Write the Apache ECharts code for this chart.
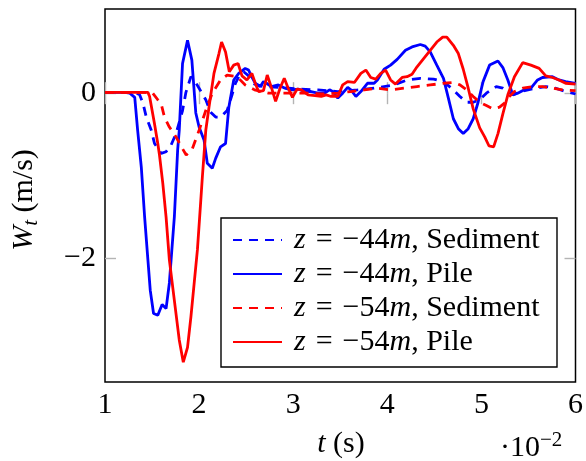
<!DOCTYPE html>
<html>
<head>
<meta charset="utf-8">
<script src="https://cdn.jsdelivr.net/npm/echarts@6/dist/echarts.min.js"></script>
<style>
  html, body { margin: 0; padding: 0; background: #fff; }
  #chart { width: 586px; height: 461px; }
</style>
</head>
<body>
<div id="chart"></div>
<script>
// Time axis in units of 1e-2 s, vertical velocity W_t in m/s.

// z = -44 m, sediment
const tSed44 = [1.0, 1.158, 1.316, 1.368, 1.403, 1.439, 1.492, 1.526, 1.597, 1.649, 1.702, 1.755, 1.824, 1.86, 1.913, 1.947, 2.0, 2.071, 2.123, 2.176, 2.228, 2.298, 2.35, 2.386, 2.421, 2.474, 2.526, 2.589, 2.684, 2.842, 3.053, 3.263, 3.474, 3.684, 3.86, 4.07, 4.21, 4.351, 4.492, 4.597, 4.702, 4.772, 4.842, 4.913, 4.982, 5.053, 5.158, 5.228, 5.334, 5.421, 5.579, 5.684, 5.789, 5.895, 6.0];
const wSed44 = [0.01, 0.01, 0.01, -0.02, -0.12, -0.29, -0.45, -0.61, -0.73, -0.71, -0.63, -0.49, -0.21, 0.01, 0.20, 0.16, 0.06, -0.08, -0.23, -0.29, -0.29, -0.21, -0.02, 0.12, 0.20, 0.26, 0.21, 0.11, 0.08, 0.07, 0.05, 0.04, 0.02, 0.04, 0.06, 0.10, 0.16, 0.18, 0.17, 0.14, 0.04, -0.04, -0.11, -0.11, -0.08, 0.0, 0.08, 0.06, -0.02, 0.02, 0.06, 0.08, 0.06, 0.02, -0.01];

// z = -44 m, pile
const tPile44 = [1.0, 1.105, 1.21, 1.263, 1.316, 1.347, 1.386, 1.421, 1.456, 1.481, 1.516, 1.561, 1.607, 1.649, 1.684, 1.737, 1.772, 1.789, 1.824, 1.877, 1.923, 1.965, 2.0, 2.053, 2.087, 2.14, 2.176, 2.228, 2.281, 2.316, 2.368, 2.421, 2.49, 2.526, 2.558, 2.597, 2.65, 2.684, 2.716, 2.768, 2.842, 2.913, 2.979, 3.053, 3.123, 3.189, 3.263, 3.334, 3.386, 3.421, 3.474, 3.526, 3.579, 3.614, 3.666, 3.719, 3.789, 3.86, 3.895, 3.966, 4.035, 4.105, 4.193, 4.263, 4.351, 4.403, 4.456, 4.526, 4.597, 4.649, 4.702, 4.755, 4.807, 4.86, 4.913, 4.965, 5.018, 5.087, 5.176, 5.228, 5.281, 5.334, 5.386, 5.456, 5.526, 5.597, 5.649, 5.755, 5.824, 5.895, 6.0];
const wPile44 = [0.01, 0.01, 0.01, 0.0, -0.05, -0.45, -0.90, -1.50, -2.02, -2.39, -2.67, -2.69, -2.56, -2.61, -2.30, -1.50, -0.69, -0.45, 0.36, 0.64, 0.40, -0.24, -0.41, -0.57, -0.85, -0.91, -0.79, -0.65, -0.61, -0.17, 0.16, 0.24, 0.30, 0.28, 0.20, 0.12, 0.08, 0.14, 0.12, 0.08, 0.10, 0.06, 0.04, 0.05, 0.02, 0.02, 0.0, 0.0, 0.04, 0.02, -0.06, 0.0, 0.07, 0.04, -0.04, 0.02, 0.12, 0.12, 0.16, 0.29, 0.34, 0.41, 0.52, 0.56, 0.59, 0.57, 0.50, 0.34, 0.18, -0.06, -0.31, -0.43, -0.49, -0.43, -0.31, -0.11, 0.14, 0.34, 0.39, 0.31, 0.16, -0.02, 0.0, 0.04, 0.06, 0.16, 0.19, 0.20, 0.16, 0.14, 0.12];

// z = -54 m, sediment
const tSed54 = [1.0, 1.21, 1.421, 1.508, 1.561, 1.597, 1.632, 1.684, 1.755, 1.807, 1.863, 1.929, 2.0, 2.071, 2.14, 2.228, 2.298, 2.403, 2.49, 2.589, 2.737, 2.947, 3.158, 3.316, 3.474, 3.614, 3.755, 3.895, 4.035, 4.175, 4.316, 4.456, 4.597, 4.702, 4.772, 4.842, 4.913, 4.982, 5.053, 5.123, 5.193, 5.246, 5.281, 5.351, 5.439, 5.544, 5.649, 5.755, 5.86, 6.0];
const wSed54 = [0.01, 0.01, 0.01, 0.0, -0.08, -0.13, -0.29, -0.41, -0.53, -0.64, -0.75, -0.67, -0.45, -0.21, 0.0, 0.16, 0.22, 0.20, 0.10, 0.04, 0.0, 0.0, 0.0, -0.01, 0.0, 0.02, 0.04, 0.06, 0.04, 0.06, 0.08, 0.10, 0.12, 0.13, 0.10, 0.04, -0.04, -0.11, -0.15, -0.19, -0.17, -0.12, -0.06, 0.02, 0.06, 0.08, 0.08, 0.06, 0.04, 0.03];

// z = -54 m, pile
const tPile54 = [1.0, 1.158, 1.316, 1.421, 1.456, 1.474, 1.526, 1.561, 1.579, 1.614, 1.649, 1.684, 1.737, 1.789, 1.832, 1.877, 1.913, 1.947, 1.982, 2.018, 2.035, 2.071, 2.105, 2.158, 2.211, 2.239, 2.281, 2.321, 2.368, 2.414, 2.456, 2.508, 2.561, 2.597, 2.632, 2.684, 2.724, 2.768, 2.813, 2.86, 2.905, 2.947, 2.992, 3.042, 3.087, 3.158, 3.232, 3.298, 3.351, 3.403, 3.474, 3.526, 3.579, 3.65, 3.719, 3.772, 3.824, 3.877, 3.93, 3.982, 4.035, 4.087, 4.158, 4.21, 4.263, 4.316, 4.386, 4.456, 4.526, 4.589, 4.632, 4.702, 4.755, 4.807, 4.86, 4.913, 4.982, 5.035, 5.081, 5.13, 5.176, 5.228, 5.281, 5.351, 5.439, 5.526, 5.614, 5.684, 5.755, 5.824, 5.895, 6.0];
const wPile54 = [0.01, 0.01, 0.01, 0.01, 0.01, -0.04, -0.37, -0.61, -0.75, -1.09, -1.50, -2.02, -2.51, -2.99, -3.26, -3.08, -2.71, -2.31, -1.90, -1.30, -1.01, -0.45, -0.17, 0.24, 0.48, 0.62, 0.50, 0.26, 0.34, 0.36, 0.21, 0.16, 0.24, 0.12, 0.02, 0.03, 0.22, 0.07, -0.10, 0.06, 0.18, 0.06, -0.05, 0.05, 0.04, -0.02, -0.03, -0.04, -0.02, -0.04, -0.04, 0.10, 0.14, 0.13, 0.24, 0.28, 0.19, 0.17, 0.24, 0.28, 0.16, 0.11, 0.19, 0.20, 0.23, 0.32, 0.42, 0.52, 0.62, 0.68, 0.68, 0.58, 0.48, 0.29, 0.06, -0.19, -0.42, -0.53, -0.64, -0.65, -0.49, -0.25, -0.02, 0.20, 0.37, 0.34, 0.30, 0.21, 0.19, 0.16, 0.12, 0.11];

const xTicks = [1, 2, 3, 4, 5, 6];
const yTicks = [-2, 0];

const seriesNames = ['z = −44m, Sediment', 'z = −44m, Pile', 'z = −54m, Sediment', 'z = −54m, Pile'];
const legendRich = {
  'z = −44m, Sediment': '{z|z}{op|=}{op|−}{r|44}{i|m}{r|, Sediment}',
  'z = −44m, Pile': '{z|z}{op|=}{op|−}{r|44}{i|m}{r|, Pile}',
  'z = −54m, Sediment': '{z|z}{op|=}{op|−}{r|54}{i|m}{r|, Sediment}',
  'z = −54m, Pile': '{z|z}{op|=}{op|−}{r|54}{i|m}{r|, Pile}'
};

const FONT = 'Liberation Serif';
const FS = 30;
const BLUE = '#0000ff';
const RED = '#ff0000';

function zip(t, w) { return t.map((v, i) => [v, w[i]]); }

function lineSeries(name, t, w, color, dashed) {
  return {
    name: name,
    type: 'line',
    data: zip(t, w),
    symbol: 'none',
    showSymbol: false,
    smooth: false,
    clip: true,
    lineStyle: { color: color, width: 2.8, type: dashed ? [9, 7] : 'solid' },
    itemStyle: { color: color },
    z: 3
  };
}

const tickStyle = { show: true, inside: true, length: 11, lineStyle: { color: '#b4b4b4', width: 1.4 } };
const axisFont = { fontFamily: FONT, fontSize: FS, color: '#000' };
const legendText = { fontFamily: FONT, fontSize: FS, color: '#000', lineHeight: 22 };

const chart = echarts.init(document.getElementById('chart'));
chart.setOption({
  animation: false,
  backgroundColor: '#fff',
  grid: {
    left: 105, right: 6, top: 9, bottom: 79,
    show: true, borderColor: '#000', borderWidth: 1.5, backgroundColor: 'transparent'
  },
  xAxis: [
    {
      type: 'value', min: 1, max: 6, interval: 1, position: 'bottom',
      axisLine: { show: false },
      axisTick: Object.assign({ customValues: xTicks }, tickStyle),
      splitLine: { show: false },
      axisLabel: Object.assign({ margin: 8, customValues: xTicks }, axisFont)
    },
    {
      type: 'value', min: 1, max: 6, interval: 1, position: 'top',
      axisLine: { show: false },
      axisTick: Object.assign({ customValues: xTicks }, tickStyle),
      splitLine: { show: false },
      axisLabel: { show: false }
    }
  ],
  yAxis: [
    {
      type: 'value', min: -3.5, max: 1.02, position: 'left',
      axisLine: { show: false },
      axisTick: Object.assign({ customValues: yTicks }, tickStyle),
      splitLine: { show: false },
      axisLabel: Object.assign({
        margin: 9,
        customValues: yTicks,
        formatter: v => (v < 0 ? '−' + Math.abs(v) : String(v))
      }, axisFont)
    },
    {
      type: 'value', min: -3.5, max: 1.02, position: 'right',
      axisLine: { show: false },
      axisTick: Object.assign({ customValues: yTicks }, tickStyle),
      splitLine: { show: false },
      axisLabel: { show: false }
    }
  ],
  legend: {
    orient: 'vertical',
    left: 221, top: 214,
    padding: [11, 10, 11, 11],
    itemWidth: 49, itemHeight: 14, itemGap: 4,
    backgroundColor: 'transparent',
    data: seriesNames,
    itemStyle: { opacity: 0, color: 'transparent', borderWidth: 0 },
    formatter: name => legendRich[name],
    textStyle: Object.assign({
      rich: {
        z: Object.assign({ fontStyle: 'italic', padding: [0, 0, 0, 7] }, legendText),
        i: Object.assign({ fontStyle: 'italic' }, legendText),
        op: Object.assign({ padding: [0, 0, 0, 10] }, legendText),
        r: legendText
      }
    }, legendText),
    z: 10
  },
  graphic: [
    {
      type: 'rect', z: 5, silent: true,
      shape: { x: 221, y: 218, width: 336, height: 149 },
      style: { fill: '#fff', stroke: '#000', lineWidth: 1.4 }
    },
    {
      type: 'text', z: 11, x: 24, y: 200, rotation: Math.PI / 2,
      style: {
        text: '{i|W}{s|t}{r| (m/s)}',
        align: 'center', verticalAlign: 'middle',
        rich: {
          i: { fontFamily: FONT, fontSize: FS, fontStyle: 'italic', fill: '#000' },
          s: { fontFamily: FONT, fontSize: 21, fontStyle: 'italic', fill: '#000', padding: [15, 0, 0, 0] },
          r: { fontFamily: FONT, fontSize: FS, fill: '#000' }
        }
      }
    },
    {
      type: 'text', z: 11, x: 341, y: 444,
      style: {
        text: '{i|t}{r| (s)}',
        align: 'center', verticalAlign: 'middle',
        rich: {
          i: { fontFamily: FONT, fontSize: FS, fontStyle: 'italic', fill: '#000' },
          r: { fontFamily: FONT, fontSize: FS, fill: '#000' }
        }
      }
    },
    {
      type: 'text', z: 11, x: 500, y: 448,
      style: {
        text: '{r|·10}{p|−2}',
        align: 'left', verticalAlign: 'middle',
        rich: {
          r: { fontFamily: FONT, fontSize: FS, fill: '#000' },
          p: { fontFamily: FONT, fontSize: 21, fill: '#000', padding: [0, 0, 15, 0] }
        }
      }
    }
  ],
  series: [
    lineSeries(seriesNames[0], tSed44, wSed44, BLUE, true),
    lineSeries(seriesNames[1], tPile44, wPile44, BLUE, false),
    lineSeries(seriesNames[2], tSed54, wSed54, RED, true),
    lineSeries(seriesNames[3], tPile54, wPile54, RED, false)
  ]
});
</script>
</body>
</html>
